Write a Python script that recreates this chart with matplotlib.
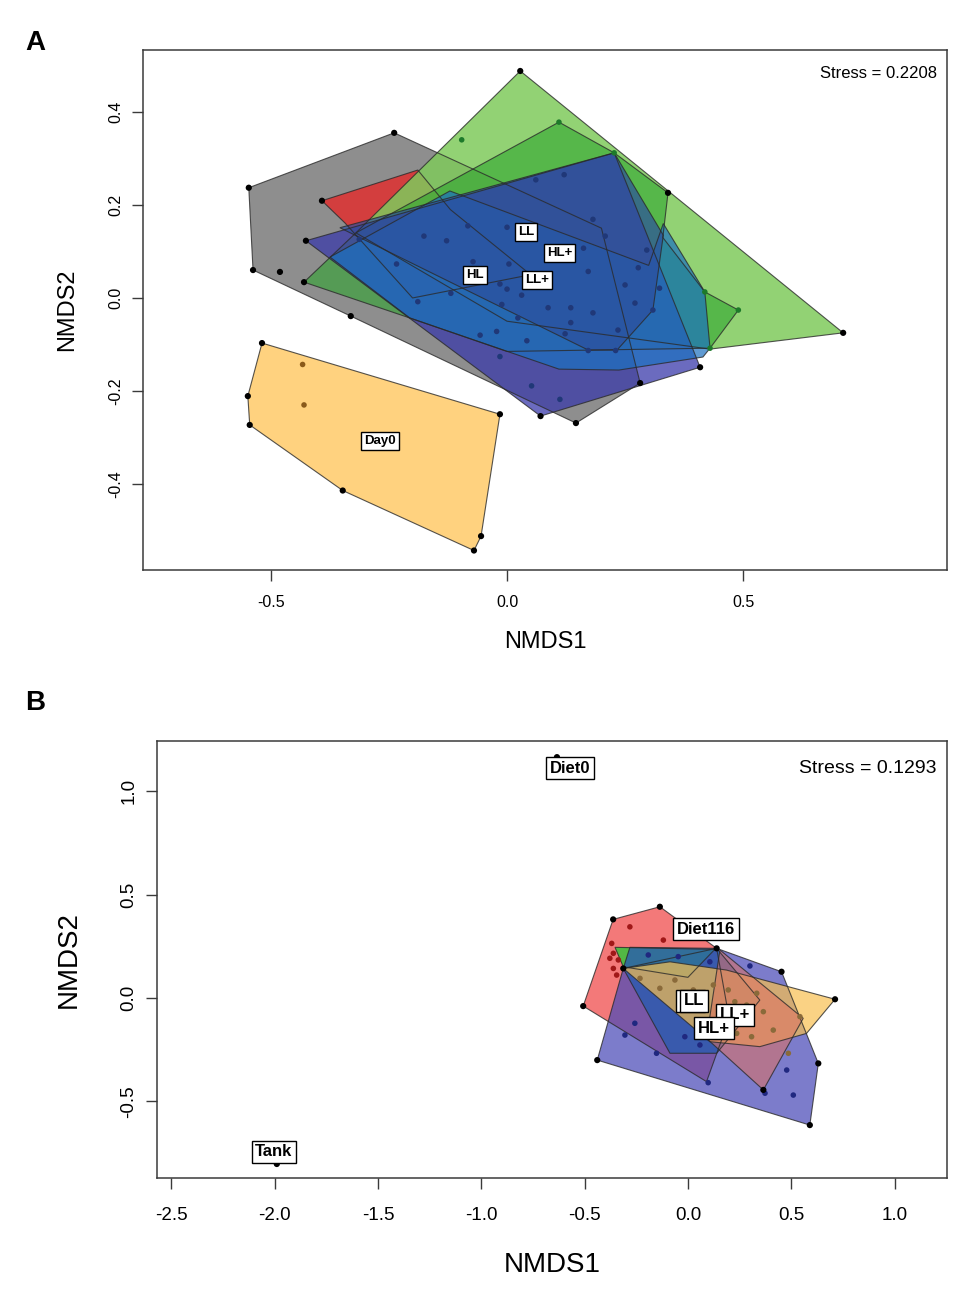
import matplotlib
matplotlib.use("Agg")
from matplotlib import pyplot as plt

plt.rcParams['font.family'] = ['Liberation Sans', 'DejaVu Sans']
plt.rcParams['axes.unicode_minus'] = False

# ---------------- panel A data (NMDS1, NMDS2) ----------------
a_gray_hull = [(-0.547, 0.237), (-0.239, 0.355), (0.20, 0.15), (0.282, -0.183),
               (0.146, -0.269), (-0.331, -0.039), (-0.538, 0.060)]
a_red_hull = [(-0.392, 0.209), (-0.189, 0.275), (-0.12, 0.19), (0.05, 0.05),
              (-0.20, 0.0), (-0.343, 0.161)]
a_lgreen_hull = [(0.028, 0.488), (0.712, -0.075), (0.43, -0.11), (0.0, -0.05), (-0.32, 0.14)]
a_mgreen_hull = [(0.110, 0.378), (0.227, 0.312), (0.341, 0.226), (0.33, 0.13), (0.419, 0.013),
                 (0.49, -0.026), (0.43, -0.108), (0.0, -0.115), (-0.206, -0.043),
                 (-0.43, 0.034), (-0.32, 0.14)]
a_purple_hull = [(-0.426, 0.123), (0.227, 0.312), (0.409, -0.149), (0.071, -0.254)]
a_mblue_hull = [(-0.375, 0.088), (-0.121, 0.23), (0.30, 0.07), (0.331, 0.16), (0.419, 0.013),
                (0.430, -0.108), (0.415, -0.127), (0.237, -0.155), (0.110, -0.153),
                (-0.206, -0.043)]
a_sblue_hull = [(-0.354, 0.151), (0.227, 0.312), (0.331, 0.135), (0.309, -0.026),
                (0.233, -0.112), (0.172, -0.112)]
a_day0_hull = [(-0.519, -0.097), (-0.015, -0.250), (-0.055, -0.512), (-0.070, -0.543),
               (-0.348, -0.414), (-0.545, -0.273), (-0.549, -0.211)]

a_black_pts = [(-0.547, 0.237), (-0.239, 0.355), (-0.538, 0.060), (-0.481, 0.056),
               (-0.331, -0.039), (0.146, -0.269), (-0.392, 0.209), (-0.426, 0.123),
               (-0.43, 0.034), (0.028, 0.488), (0.712, -0.075), (0.071, -0.254),
               (0.409, -0.149), (0.282, -0.183), (0.341, 0.226),
               (-0.519, -0.097), (-0.015, -0.250), (-0.055, -0.512), (-0.070, -0.543),
               (-0.348, -0.414), (-0.545, -0.273), (-0.549, -0.211)]
a_green_pts = [(-0.096, 0.34), (0.110, 0.378), (0.227, 0.312), (0.49, -0.026),
               (0.43, -0.108), (0.419, 0.013)]
a_blue_pts = [(0.061, 0.254), (-0.083, 0.155), (0.0, 0.152), (-0.176, 0.133), (-0.128, 0.123),
              (-0.313, 0.126), (-0.234, 0.073), (-0.072, 0.078), (0.004, 0.073),
              (-0.015, 0.030), (0.0, 0.019), (0.031, 0.006), (-0.119, 0.01), (-0.189, -0.008),
              (-0.011, -0.014), (0.023, -0.043), (0.087, -0.021), (-0.057, -0.08),
              (-0.022, -0.072), (0.042, -0.092), (-0.015, -0.126), (0.052, -0.189),
              (0.121, 0.265), (0.182, 0.169), (0.208, 0.133), (0.296, 0.103), (0.162, 0.107),
              (0.172, 0.057), (0.278, 0.065), (0.25, 0.028), (0.323, 0.021), (0.271, -0.011),
              (0.309, -0.026), (0.135, -0.021), (0.182, -0.032), (0.135, -0.053),
              (0.123, -0.077), (0.235, -0.069), (0.172, -0.113), (0.23, -0.113),
              (0.112, -0.218)]
a_day0_pts = [(-0.433, -0.143), (-0.430, -0.230)]

a_label_text = ["LL", "HL+", "HL", "LL+", "Day0"]
a_label_x = [0.040, 0.112, -0.068, 0.064, -0.269]
a_label_y = [0.142, 0.097, 0.049, 0.039, -0.308]

# ---------------- panel B data ----------------
b_red_hull = [(-0.362, 0.380), (-0.136, 0.441), (0.139, 0.240), (0.20, -0.10),
              (0.09, -0.404), (-0.507, -0.039)]
b_bp_hull = [(-0.439, -0.300), (-0.313, 0.143), (0.139, 0.240), (0.453, 0.127),
             (0.631, -0.316), (0.590, -0.614)]
b_green_hull = [(-0.353, 0.245), (0.13, 0.235), (0.0, 0.10), (-0.313, 0.151)]
b_sblue_hull = [(-0.281, 0.245), (0.139, 0.240), (0.348, -0.01), (0.139, -0.267),
                (-0.087, -0.267), (-0.313, 0.143)]
b_orange_hull = [(-0.313, 0.143), (-0.087, 0.175), (0.187, 0.135), (0.712, -0.006),
                 (0.574, -0.171), (0.348, -0.235), (0.106, -0.211)]
b_salmon_hull = [(0.155, 0.232), (0.558, -0.098), (0.365, -0.444), (0.09, -0.195)]

b_black_pts = [(-0.362, 0.380), (-0.136, 0.441), (0.139, 0.240), (0.453, 0.127),
               (0.712, -0.006), (0.631, -0.316), (0.590, -0.614), (-0.439, -0.300),
               (-0.507, -0.039), (0.365, -0.444), (-0.313, 0.143), (-0.634, 1.164),
               (-1.99, -0.802)]
b_red_pts = [(-0.281, 0.344), (-0.369, 0.264), (-0.361, 0.216), (-0.378, 0.192),
             (-0.337, 0.184), (-0.361, 0.143), (-0.345, 0.111), (-0.119, 0.280)]
b_blue_pts = [(-0.192, 0.208), (-0.047, 0.2), (0.106, 0.175), (0.300, 0.155),
              (-0.257, -0.122), (-0.305, -0.179), (-0.015, -0.187), (0.058, -0.227),
              (-0.152, -0.267), (0.098, -0.409), (0.373, -0.46), (0.510, -0.469),
              (0.478, -0.348)]
b_brown_pts = [(-0.232, 0.095), (-0.136, 0.047), (-0.063, 0.087), (0.026, 0.039),
               (0.123, 0.063), (0.195, 0.039), (0.227, -0.018), (0.284, -0.034),
               (0.333, 0.023), (0.365, -0.066), (0.413, -0.155), (0.308, -0.187),
               (0.236, -0.171), (0.187, -0.139), (0.486, -0.267), (0.542, -0.09),
               (0.058, -0.114)]

b_label_text = ["Diet0", "Tank", "Diet116", "HL", "LL", "LL+", "HL+"]
b_label_x = [-0.571, -2.004, 0.087, 0.012, 0.028, 0.227, 0.126]
b_label_y = [1.111, -0.744, 0.333, -0.014, -0.014, -0.082, -0.145]


def hull(ax, pts, fc, alpha):
    xs = [p[0] for p in pts]
    ys = [p[1] for p in pts]
    ax.fill(xs, ys, facecolor=fc, alpha=alpha, edgecolor='none', zorder=2)
    ax.fill(xs, ys, facecolor='none', edgecolor='#2a2a2a', lw=0.8, alpha=0.8, zorder=2.1)


def dots(ax, pts, color, size=16):
    ax.scatter([p[0] for p in pts], [p[1] for p in pts], s=size, c=color,
               edgecolors='none', zorder=3)


def labels(ax, xs, ys, texts, fs):
    for x, y, t in zip(xs, ys, texts):
        ax.text(x, y, t, ha='center', va='center', fontsize=fs, fontweight='bold',
                zorder=5,
                bbox=dict(boxstyle='square,pad=0.22', fc='white', ec='black', lw=1.0))


def style(ax, fs_tick, xpad):
    for s in ax.spines.values():
        s.set_color('#3a3a3a')
        s.set_linewidth(1.1)
    ax.tick_params(direction='out', length=8, width=1.0, color='#3a3a3a',
                   labelsize=fs_tick)
    ax.tick_params(axis='x', pad=xpad)
    ax.tick_params(axis='y', pad=6)
    for lab in ax.get_yticklabels():
        lab.set_rotation(90)
        lab.set_va('center')


fig = plt.figure(figsize=(9.75, 13), dpi=100)

# ---------------- panel A ----------------
axA = fig.add_axes([0.1467, 0.5615, 0.8246, 0.4])
hull(axA, a_gray_hull, '#7a7a7a', 0.85)
hull(axA, a_red_hull, '#e03030', 0.85)
hull(axA, a_lgreen_hull, '#7fca5c', 0.85)
hull(axA, a_mgreen_hull, '#2fa52f', 0.6)
hull(axA, a_purple_hull, '#3a3aaa', 0.75)
hull(axA, a_mblue_hull, '#1b70c0', 0.7)
hull(axA, a_sblue_hull, '#2c4f9e', 0.7)
hull(axA, a_day0_hull, '#ffd27f', 1.0)
dots(axA, a_blue_pts, '#203878')
dots(axA, a_green_pts, '#1d7a2a')
dots(axA, a_day0_pts, '#8a5a1a')
dots(axA, a_black_pts, 'black', 20)
labels(axA, a_label_x, a_label_y, a_label_text, 9.5)
axA.set_xlim(-0.771, 0.932)
axA.set_ylim(-0.585, 0.533)
axA.set_xticks([-0.5, 0.0, 0.5])
axA.set_yticks([-0.4, -0.2, 0.0, 0.2, 0.4])
axA.set_xlabel('NMDS1', fontsize=17, labelpad=15)
axA.set_ylabel('NMDS2', fontsize=17, labelpad=22)
style(axA, 11.5, 10)
axA.text(0.988, 0.954, 'Stress = 0.2208', transform=axA.transAxes, ha='right',
         va='center', fontsize=12)
fig.text(0.026, 0.967, 'A', fontsize=20, fontweight='bold', va='center')

# ---------------- panel B ----------------
axB = fig.add_axes([0.161, 0.0938, 0.8103, 0.3362])
hull(axB, b_red_hull, '#f05858', 0.8)
hull(axB, b_bp_hull, '#4a4ab8', 0.72)
hull(axB, b_green_hull, '#40c040', 0.9)
hull(axB, b_sblue_hull, '#2a5cb0', 0.8)
hull(axB, b_orange_hull, '#f8c050', 0.7)
hull(axB, b_salmon_hull, '#e07060', 0.55)
dots(axB, b_red_pts, '#a01818')
dots(axB, b_blue_pts, '#202880')
dots(axB, b_brown_pts, '#8a6a3a')
dots(axB, b_black_pts, 'black', 20)
labels(axB, b_label_x, b_label_y, b_label_text, 12)
axB.set_xlim(-2.57, 1.254)
axB.set_ylim(-0.870, 1.242)
axB.set_xticks([-2.5, -2.0, -1.5, -1.0, -0.5, 0.0, 0.5, 1.0])
axB.set_yticks([-0.5, 0.0, 0.5, 1.0])
axB.set_xlabel('NMDS1', fontsize=20, labelpad=20)
axB.set_ylabel('NMDS2', fontsize=20, labelpad=28)
style(axB, 13.5, 13)
axB.text(0.987, 0.938, 'Stress = 0.1293', transform=axB.transAxes, ha='right',
         va='center', fontsize=14)
fig.text(0.026, 0.459, 'B', fontsize=20, fontweight='bold', va='center')

fig.savefig('out.png', dpi=100)
